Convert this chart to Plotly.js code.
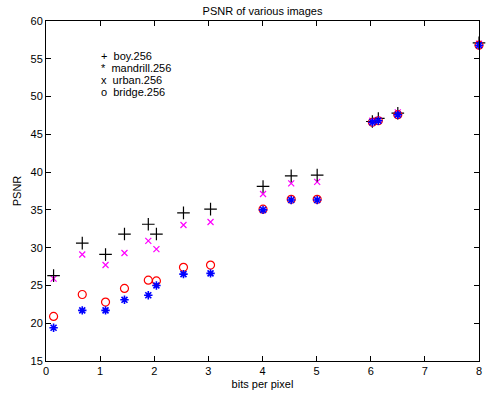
<!DOCTYPE html>
<html>
<head>
<meta charset="utf-8">
<script src="https://cdn.plot.ly/plotly-3.0.1.min.js"></script>
<style>
html,body{margin:0;padding:0;background:#fff;}
#chart{width:498px;height:396px;}
</style>
</head>
<body>
<div id="chart"></div>
<script>
const bpp = [0.14, 0.67, 1.10, 1.45, 1.89, 2.04, 2.54, 3.04, 4.01, 4.53, 5.01, 6.03, 6.14, 6.5, 8.0];
const boy = [26.3, 30.6, 29.1, 31.8, 33.1, 31.8, 34.6, 35.1, 38.1, 39.5, 39.6, 46.7, 47.1, 47.8, 57.1];
const mandrill = [19.4, 21.7, 21.7, 23.1, 23.7, 25.0, 26.5, 26.6, 35.0, 36.3, 36.3, 46.6, 46.8, 47.6, 56.8];
const urban = [25.9, 29.1, 27.7, 29.3, 30.9, 29.8, 33.0, 33.4, 37.1, 38.5, 38.7, 46.8, 46.9, 47.9, 57.0];
const bridge = [20.9, 23.8, 22.8, 24.6, 25.7, 25.6, 27.4, 27.7, 35.1, 36.4, 36.4, 46.6, 46.8, 47.6, 56.8];
const legendLabels = ['+  boy.256', '*  mandrill.256', 'x  urban.256', 'o  bridge.256'];

const FONT = 'Liberation Sans, Arial, sans-serif';
const traces = [
  {x: bpp, y: urban, mode: 'markers', type: 'scatter', cliponaxis: false,
   marker: {symbol: 'x-thin-open', size: 6, color: '#ff00ff', line: {color: '#ff00ff', width: 1.2}}},
  {x: bpp, y: boy, mode: 'markers', type: 'scatter', cliponaxis: false,
   marker: {symbol: 'cross-thin-open', size: 9, color: '#000000', line: {color: '#000000', width: 1.2}}},
  {x: bpp, y: bridge, mode: 'markers', type: 'scatter', cliponaxis: false,
   marker: {symbol: 'circle-open', size: 8, color: '#ff0000', line: {color: '#ff0000', width: 1.2}}},
  {x: bpp, y: mandrill, mode: 'markers', type: 'scatter', cliponaxis: false,
   marker: {symbol: 'asterisk-open', size: 7, color: '#0000ff', line: {color: '#0000ff', width: 1.6}}}
];

const annotations = legendLabels.map((t, i) => ({
  text: t, xref: 'paper', yref: 'paper',
  x: (99 - 46) / 433, y: (361 - (56 + i * 12)) / 340,
  xanchor: 'left', yanchor: 'middle', showarrow: false,
  font: {family: FONT, size: 11, color: '#000'}
}));

const layout = {
  width: 498, height: 396,
  margin: {l: 46, r: 19, t: 21, b: 35, pad: 0},
  paper_bgcolor: '#fff', plot_bgcolor: '#fff',
  showlegend: false,
  font: {family: FONT, size: 11, color: '#000'},
  title: {text: 'PSNR of various images', x: 0.5, xref: 'paper', y: 1 - 11 / 396, yanchor: 'middle',
          font: {family: FONT, size: 11, color: '#000'}},
  xaxis: {range: [0, 8], tickvals: [0,1,2,3,4,5,6,7,8], ticks: 'inside', ticklen: 5, tickcolor: '#000',
          showline: true, linecolor: '#000', linewidth: 1, mirror: 'ticks', showgrid: false, zeroline: false,
          tickfont: {family: FONT, size: 11, color: '#000'},
          title: {text: 'bits per pixel', standoff: 4, font: {family: FONT, size: 11, color: '#000'}}},
  yaxis: {range: [15, 60], tickvals: [15,20,25,30,35,40,45,50,55,60], ticks: 'inside', ticklen: 5, tickcolor: '#000',
          showline: true, linecolor: '#000', linewidth: 1, mirror: 'ticks', showgrid: false, zeroline: false,
          tickfont: {family: FONT, size: 11, color: '#000'},
          title: {text: 'PSNR', standoff: 6, font: {family: FONT, size: 11, color: '#000'}}},
  annotations: annotations
};

Plotly.newPlot('chart', traces, layout, {displayModeBar: false, staticPlot: true});
</script>
</body>
</html>
